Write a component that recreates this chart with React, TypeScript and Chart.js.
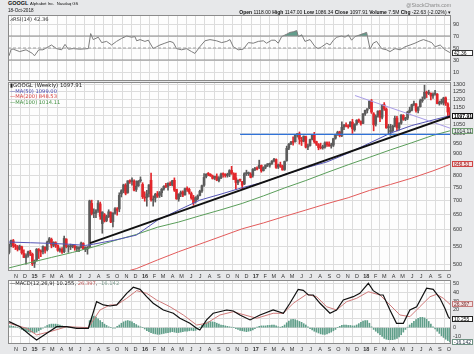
import React, { useEffect, useRef } from 'react';
import { Chart, registerables } from 'chart.js';
Chart.register(...registerables);

// ---------- DATA ----------
// week 0 = week ending 24-Oct-2014, weekly bars up to 19-Oct-2018 (index 208)
const FIRST_WEEK = Date.UTC(2014, 9, 24);
const WEEK_MS = 7 * 24 * 3600 * 1000;

const weekOpen = [532,556,566,551,547,541,548,529,517,524,533,527,502,511,540,535,534,547,540,563,570,552,560,552,538,541,534,571,548,548,549,551,543,542,546,558,540,542,548,690,654,655,665,688,620,650,630,643,657,626,655,670,670,725,737,760,731,777,774,776,743,757,778,763,714,712,727,780,702,710,726,720,730,745,756,755,767,761,780,743,706,726,733,722,747,743,727,712,699,708,720,737,760,796,806,805,798,789,795,779,790,807,802,800,805,822,808,790,770,781,775,765,808,808,806,800,826,830,835,844,821,836,847,845,853,865,871,837,847,840,826,866,925,947,955,957,993,998,962,960,983,930,938,970,994,958,943,930,927,930,952,943,936,940,975,995,1008,990,1035,1045,1038,1038,1062,1020,1052,1075,1066,1055,1110,1131,1145,1188,1110,1050,1097,1125,1090,1165,1138,1031,1010,1015,1040,1085,1030,1056,1101,1078,1085,1122,1131,1166,1170,1130,1153,1190,1205,1240,1237,1237,1220,1232,1232,1172,1180,1175,1208,1170,1118];
const weekHigh = [557,568,570,556,552,553,550,539,528,536,538,530,511,543,543,539,551,548,565,576,574,563,563,554,545,546,580,572,552,556,555,552,550,549,562,560,548,549,702,702,670,668,700,695,660,654,648,667,660,656,675,675,730,742,764,766,778,782,790,782,778,779,794,770,734,740,762,810,718,728,735,735,747,758,768,770,774,780,790,744,726,737,738,748,753,748,733,720,715,722,740,760,808,808,813,808,802,798,807,795,810,811,808,810,825,840,812,810,782,785,775,812,823,815,812,830,836,838,868,846,838,846,852,855,866,876,874,850,859,845,864,935,948,959,982,995,1000,1008,980,987,986,945,970,994,1006,960,948,950,940,957,957,956,950,975,996,1012,1012,1063,1048,1058,1048,1065,1078,1053,1076,1080,1070,1111,1132,1140,1188,1198,1117,1104,1128,1130,1165,1178,1145,1050,1050,1045,1096,1095,1060,1105,1105,1090,1125,1150,1168,1187,1172,1152,1200,1214,1292,1252,1258,1240,1240,1257,1236,1188,1200,1212,1214,1177,1147];
const weekLow = [528,548,546,540,536,539,527,517,500,519,523,496,491,508,515,520,528,530,536,560,545,548,546,535,533,529,531,545,532,540,545,538,534,534,545,540,534,527,545,649,640,640,658,634,589,625,626,640,623,609,652,648,660,714,730,722,728,767,760,737,735,755,772,708,698,680,714,698,680,695,712,712,715,740,750,740,758,757,735,705,698,715,715,721,735,725,705,683,691,703,718,731,755,790,799,796,785,783,778,773,787,793,793,793,795,805,785,744,762,775,745,762,800,800,790,793,821,824,830,814,819,829,839,836,848,860,831,830,835,823,822,863,918,942,940,955,981,945,938,956,926,917,935,966,950,938,917,921,920,925,933,935,925,933,970,990,982,983,1020,1035,1028,1035,1000,1012,1045,1060,1045,1054,1101,1115,1140,1112,1014,1040,1090,1065,1080,1130,1028,997,990,1010,1035,1013,1017,1050,1072,1070,1076,1115,1127,1157,1120,1115,1150,1180,1200,1210,1229,1195,1205,1225,1170,1162,1168,1163,1160,1085,1086.34];
const weekClose = [555,567,551,549,541,550,531,518,523,534,529,501,509,541,537,533,549,538,562,572,553,561,553,538,541,533,573,549,549,549,551,545,543,546,559,542,546,546,699,654,657,664,691,644,659,628,643,660,625,656,671,665,720,738,761,728,778,774,781,740,756,776,779,715,710,726,761,704,706,724,717,730,744,755,755,768,760,778,740,707,725,731,721,746,742,732,710,692,710,718,736,758,792,805,805,799,788,796,781,790,806,804,800,805,821,810,783,771,780,780,760,808,809,808,792,826,830,828,845,820,835,846,847,852,864,872,835,847,842,824,862,924,946,955,954,993,996,970,959,986,930,936,968,994,958,945,928,926,930,951,943,935,940,973,994,1007,988,1033,1047,1040,1036,1062,1025,1050,1072,1068,1053,1110,1130,1140,1187,1120,1047,1095,1126,1089,1164,1140,1030,1037,1010,1039,1084,1032,1054,1103,1078,1085,1120,1132,1165,1170,1130,1150,1190,1197,1244,1238,1243,1220,1231,1234,1172,1180,1182,1207,1174,1120.54,1097.91];

const ma50Weeks = [0,10,20,30,36,40,50,60,70,80,90,100,110,120,130,140,150,160,170,180,190,200,208];
const ma50Values = [562,560,558,555,552,556,568,583,631,666,702,725,750,772,804,833,860,901,950,1002,1043,1074,1099];
const ma100Weeks = [0,10,20,30,40,50,60,70,80,90,100,110,120,130,140,150,160,170,180,190,200,208];
const ma100Values = [490,504,518,532,548,567,585,608,625,646,667,690,718,749,779,813,847,881,917,952,990,1014.11];
const ma200Weeks = [54,60,70,80,90,100,110,120,130,140,150,160,170,180,190,200,208];
const ma200Values = [479,488,511,534,556,579,603,622,644,666,689,711,739,763,789,820,848.53];

const trendBlackWeeks = [38.2, 208.5];
const trendBlackValues = [559, 1096];
const supportWeeks = [109, 208.5];
const supportValues = [995, 995];
const wedgeWeeks = [163.2, 208.7];
const wedgeValues = [1223, 1026];

const rsiWeeks = [0,1,2,5,8,11,12,14,16,18.5,20,22.4,24.8,26.4,28,30.3,33.4,37.4,38.5,39.7,42.1,43.7,46,48.4,50.7,53.1,55.5,57.8,59.4,60.2,61.8,64.1,65.7,68,69.6,71.2,73.5,75.9,77.5,79,81.4,83.7,86.1,87.7,90,92.4,94.8,97.9,100.3,102.7,104.2,105.8,108.1,110.5,112.9,115.2,117.6,120,121.5,123.9,125.5,127,128.6,131,132.5,134.1,135.7,136.5,138.1,139.6,142,144.4,145.9,147.5,149.9,151.4,153,154.6,156.9,158.5,160.1,161.6,163.2,165.6,167.1,168.7,170.3,171.8,173.4,175.8,178.1,179.7,182.1,184.5,186.8,189.2,191.5,193.9,195.5,197.9,199.4,201,203.4,205.7,208];
const rsiValues = [37,48,48,44,47,41,37,47,47,52,55,49,47,56,48,49,48,49,74,64,68,59,61,55,61,66,70,68,69,62,64,61,63,49,52,55,58,61,59,49,47,49,44,41,52,62,64,62,59,61,64,52,47,48,59,58,61,62,58,63,63,58,69,73,76,77,79,69,72,61,64,52,49,52,58,55,63,68,70,68,72,63,69,72,74,76,48,58,61,49,47,44,49,47,52,55,58,62,64,61,59,52,55,47,42.36];

const macdWeeks = [0,5.2,9.9,13,17.8,22.5,27.2,31.9,37.4,41.3,44.5,47.6,50.8,55.5,58.6,61.8,64.9,68,72.8,77.5,80.6,85.3,88.5,90,93.2,96.3,102.7,105.8,108.9,113.7,118.4,124.6,129.4,132.5,136.4,138.8,141.2,143.5,146.7,151.4,154.5,157.7,162.4,165.5,169.5,171.8,175,176.5,179.7,182.8,186,189.1,192.3,197,200.1,203.3,205.6,207.2,208];
const macdValues = [6.8,1.1,-8.2,-13.9,-6.3,1.1,1.1,-0.7,-0.7,29.3,25.6,24.4,25.6,38.7,45.5,43.2,34.9,27.5,19.9,16.2,10.6,4.9,-0.7,-2.6,8.7,16.2,19.9,18.8,14.3,8.7,14.3,19.9,16.2,27.5,43.2,42,36.8,36.8,27.5,16.2,19.9,31.2,34.9,38.7,50,41.7,36.8,36.8,19.9,4.9,4.9,19.9,23.6,44.4,43.2,33.1,21.8,12.5,10.255];
const signalWeeks = [0,8.3,13,19.3,27.2,37.4,42.9,47.6,50.8,55.5,60.2,64.9,69.6,75.9,82.2,88.5,93.2,99.5,105.8,108.9,116.8,124.6,129.4,134.1,140.4,145.1,149.8,154.5,159.3,164,169.5,175,179.7,184.4,189.1,193.8,198.6,201.7,204.9,207.7,208];
const signalValues = [4.9,-0.7,-8.2,-4.5,1.1,0,19.9,25.6,25.6,33.1,41.7,38.7,31.2,23.6,14.3,3,4.9,14.3,18,15.8,10.6,16.2,16.2,27.5,37.6,34.9,23.6,19.9,29.3,33.1,40.5,36.8,25.6,14.3,12.4,23.6,34.9,37.6,33.1,27,26.397];
const histValues = [
  2,2,1.5,1,0.5,-0.5,-2,-3,-4,-4.5,
  -5,-5,-5.5,-5,-3.5,-2,-0.5,1,2.5,3.5,
  4,4,4,3.5,3,2,1,0.5,0,0.3,
  0.5,0,-0.3,-0.5,-0.3,0,-0.3,-0.5,8,12,
  13,12,10,8,6,4,2.5,1,0,-0.5,
  -0.5,1.5,3,5,6.5,7.5,8,7.5,6.5,5,
  3.5,2,1,0,-1.5,-3.5,-4.5,-5.5,-6.5,-7,
  -7.5,-7.5,-7,-6.5,-6,-5.5,-5,-4.5,-5,-5.5,
  -5.5,-5,-4.5,-4,-4,-3.5,-3,-3.5,-3,-1.5,
  0.5,2.5,4,5.5,6.5,6.8,6.5,6,5,4,
  3,2.5,2,1.5,1,0.5,0,-1,-2,-3,
  -3.5,-4,-4.5,-4,-3.5,-2.5,-1,0.5,1.5,2,
  2,2,2.5,2.5,3,3,2,1,0.5,1.5,
  3,5.5,7.5,9,9.5,9,8,7,6,4.5,
  3,1,-1,-2.5,-4,-5,-6,-7,-7.5,-7.5,
  -7,-6,-5,-3.5,-2,0,1.5,2.5,3,3,
  2.5,2.5,2,2,3,4.5,6,7.5,8,8,
  5,1,-2,-4,-6,-8,-10,-12,-13,-13.5,
  -13.5,-13.5,-13,-12,-10.5,-8,-5,-2,0.5,3,
  5,7,9,10.5,11.5,11.6,11,9.5,7,4,
  1,-1.5,-4,-6.5,-9,-11,-13,-14.5,-16.142,
];

const priceTicks = [500,550,600,650,700,750,800,850,900,950,1000,1050,1100,1150,1200,1250,1300];
const rsiTicks = [10,30,50,70,90];
const macdTicks = [-10,0,10,20,30,40,50];
const monthLetters = ['J','F','M','A','M','J','J','A','S','O','N','D'];

// month grid ticks (Nov 2014 .. Oct 2018)
const monthTicks: { value: number; label: string; year: boolean }[] = [];
for (let y = 2014, m = 10; y < 2018 || (y === 2018 && m <= 9); ) {
  const v = (Date.UTC(y, m, 1) - FIRST_WEEK) / WEEK_MS;
  monthTicks.push({ value: v, label: m === 0 ? String(y).slice(2) : monthLetters[m], year: m === 0 });
  m++;
  if (m > 11) { m = 0; y++; }
}

const FONT = '"Liberation Sans", Arial, sans-serif';
const pts = (xs: number[], ys: number[]) => xs.map((x, i) => ({ x, y: ys[i] }));

// ---------- PLUGINS ----------
const framePlugin = {
  id: 'frame',
  beforeDraw(chart: any) {
    const { ctx, chartArea: a } = chart;
    ctx.save();
    ctx.fillStyle = '#fdfdfd';
    ctx.fillRect(a.left, a.top, a.right - a.left, a.bottom - a.top);
    ctx.restore();
  },
  afterDraw(chart: any) {
    const { ctx, chartArea: a } = chart;
    ctx.save();
    ctx.strokeStyle = '#8a8a8a';
    ctx.lineWidth = 1;
    ctx.strokeRect(a.left + 0.5, a.top + 0.5, a.right - a.left - 1, a.bottom - a.top - 1);
    ctx.restore();
  },
};

const tagPlugin = {
  id: 'valueTags',
  afterDraw(chart: any, _a: any, opts: any) {
    const tags = (opts && opts.tags) || [];
    const { ctx, chartArea } = chart;
    const ys = chart.scales.y;
    ctx.save();
    for (const t of tags) {
      const py = ys.getPixelForValue(t.value);
      const left = chartArea.right + 1;
      const w = 21, h = 6;
      const top = Math.round(py - h / 2);
      ctx.fillStyle = t.fill;
      ctx.strokeStyle = t.stroke;
      ctx.lineWidth = 1;
      ctx.fillRect(left, top, w, h);
      ctx.strokeRect(left + 0.5, top + 0.5, w - 1, h - 1);
      ctx.fillStyle = t.color;
      ctx.font = (t.bold ? 'bold ' : '') + '5px ' + FONT;
      ctx.textBaseline = 'middle';
      ctx.textAlign = 'left';
      ctx.fillText(t.text, left + 2, top + h / 2 + 0.5);
    }
    ctx.restore();
  },
};

// ---------- SCALES ----------
function xScale(showLabels: boolean, h: number) {
  return {
    type: 'linear',
    min: -0.5,
    max: 208.5,
    offset: false,
    grid: { color: '#dcdcdc', drawTicks: false, offset: false },
    border: { display: false },
    afterBuildTicks: (s: any) => { s.ticks = monthTicks.map((t) => ({ value: t.value })); },
    afterFit: (s: any) => { s.height = h; s.paddingLeft = 0; s.paddingRight = 0; },
    ticks: {
      display: showLabels,
      autoSkip: false,
      maxRotation: 0,
      minRotation: 0,
      labelOffset: 4.5,
      padding: 2,
      color: '#333',
      font: (c: any) => ({ family: FONT, size: 5.5, weight: monthTicks[c.index] && monthTicks[c.index].year ? 'bold' : 'normal' }),
      callback: (_v: any, i: number) => (monthTicks[i] ? monthTicks[i].label : ''),
    },
  };
}

function yScale(type: string, min: number, max: number, ticks: number[]) {
  return {
    type,
    position: 'right',
    min,
    max,
    grid: { color: '#dcdcdc', drawTicks: false },
    border: { display: false },
    afterBuildTicks: (s: any) => { s.ticks = ticks.map((v) => ({ value: v })); },
    afterFit: (s: any) => { s.width = 23; s.paddingTop = 0; s.paddingBottom = 0; },
    ticks: { autoSkip: false, padding: 2, color: '#333', font: { family: FONT, size: 5.5 }, callback: (v: any) => String(v) },
  };
}

const baseOptions = {
  responsive: false,
  animation: false,
  devicePixelRatio: 1,
  layout: { padding: { left: 8, right: 0, top: 0, bottom: 0 } },
  events: [],
};

export default function App() {
  const rsiRef = useRef<HTMLCanvasElement>(null);
  const priceRef = useRef<HTMLCanvasElement>(null);
  const macdRef = useRef<HTMLCanvasElement>(null);

  useEffect(() => {
    Chart.defaults.font.family = FONT;
    const charts: Chart[] = [];

    const candleColor = weekClose.map((c, i) => (c < weekOpen[i] ? '#e3262b' : '#5c5c5c'));

    charts.push(new Chart(rsiRef.current as HTMLCanvasElement, {
      type: 'line',
      data: {
        datasets: [
          { data: pts([-0.5, 208.5], [70, 70]), borderColor: '#8c8c8c', borderWidth: 1, pointRadius: 0 },
          { data: pts([-0.5, 208.5], [30, 30]), borderColor: '#8c8c8c', borderWidth: 1, pointRadius: 0 },
          { data: pts([-0.5, 208.5], [50, 50]), borderColor: '#a0a0a0', borderWidth: 1, borderDash: [3, 2], pointRadius: 0 },
          {
            data: pts(rsiWeeks, rsiValues), borderColor: '#7d7d7d', borderWidth: 1, pointRadius: 0,
            fill: { target: { value: 70 }, above: 'rgba(70,140,120,0.85)', below: 'rgba(0,0,0,0)' },
          },
        ],
      },
      options: {
        ...baseOptions,
        plugins: { legend: { display: false }, tooltip: { enabled: false },
          valueTags: { tags: [{ value: 42.36, text: '42.36', stroke: '#333', fill: '#fff', color: '#111' }] } },
        scales: { x: xScale(false, 0), y: yScale('linear', -5, 105, rsiTicks) },
      } as any,
      plugins: [framePlugin, tagPlugin],
    } as any));

    charts.push(new Chart(priceRef.current as HTMLCanvasElement, {
      type: 'bar',
      data: {
        datasets: [
          { type: 'line', data: pts(trendBlackWeeks, trendBlackValues), borderColor: '#111', borderWidth: 2, pointRadius: 0, order: 0 },
          { type: 'line', data: pts(supportWeeks, supportValues), borderColor: '#2f72d8', borderWidth: 1.3, pointRadius: 0, order: 0 },
          { type: 'line', data: pts(wedgeWeeks, wedgeValues), borderColor: '#a99de6', borderWidth: 1, pointRadius: 0, order: 0 },
          { type: 'line', data: pts(ma50Weeks, ma50Values), borderColor: '#5555b5', borderWidth: 1, pointRadius: 0, order: 1 },
          { type: 'line', data: pts(ma100Weeks, ma100Values), borderColor: '#5a9e5a', borderWidth: 1, pointRadius: 0, order: 1 },
          { type: 'line', data: pts(ma200Weeks, ma200Values), borderColor: '#e35b5b', borderWidth: 1, pointRadius: 0, order: 1 },
          {
            type: 'bar', data: weekOpen.map((o, i) => ({ x: i, y: [Math.min(o, weekClose[i]), Math.max(o, weekClose[i])] })),
            backgroundColor: candleColor, barThickness: 2, grouped: false, minBarLength: 1, order: 2,
          },
          {
            type: 'bar', data: weekHigh.map((h, i) => ({ x: i, y: [weekLow[i], h] })),
            backgroundColor: candleColor, barThickness: 1, grouped: false, order: 3,
          },
        ],
      },
      options: {
        ...baseOptions,
        plugins: { legend: { display: false }, tooltip: { enabled: false },
          valueTags: { tags: [
            { value: 1097.91, text: '1097.91', stroke: '#111', fill: '#fff', color: '#000', bold: true },
            { value: 1014.11, text: '1014.11', stroke: '#6d9a6d', fill: '#e8f0e8', color: '#223' },
            { value: 848.53, text: '848.53', stroke: '#d04545', fill: '#f7dcdc', color: '#a02020' },
          ] } },
        scales: { x: xScale(true, 9), y: yScale('logarithmic', 482, 1314, priceTicks) },
      } as any,
      plugins: [framePlugin, tagPlugin],
    } as any));

    charts.push(new Chart(macdRef.current as HTMLCanvasElement, {
      type: 'bar',
      data: {
        datasets: [
          { type: 'line', data: pts(macdWeeks, macdValues), borderColor: '#111', borderWidth: 1.2, pointRadius: 0, order: 0 },
          { type: 'line', data: pts(signalWeeks, signalValues), borderColor: '#d07a7a', borderWidth: 1, pointRadius: 0, order: 1 },
          { type: 'bar', data: histValues.map((v, i) => ({ x: i, y: v })), backgroundColor: '#5f9e89', barThickness: 1, grouped: false, order: 2 },
        ],
      },
      options: {
        ...baseOptions,
        plugins: { legend: { display: false }, tooltip: { enabled: false },
          valueTags: { tags: [
            { value: 26.397, text: '26.397', stroke: '#c47a7a', fill: '#f5e2e2', color: '#702525' },
            { value: 10.255, text: '10.255', stroke: '#222', fill: '#fff', color: '#000' },
            { value: -16.142, text: '-16.142', stroke: '#6e9282', fill: '#fff', color: '#234' },
          ] } },
        scales: { x: xScale(true, 10), y: yScale('linear', -18.4, 53.7, macdTicks) },
      } as any,
      plugins: [framePlugin, tagPlugin],
    } as any));

    return () => charts.forEach((c) => c.destroy());
  }, []);

  const abs = (left: number, top: number, extra: React.CSSProperties = {}): React.CSSProperties => ({
    position: 'absolute', left, top, lineHeight: 1, whiteSpace: 'nowrap', ...extra,
  });
  const legendFont = '"DejaVu Sans", sans-serif';

  return (
    <div style={{ position: 'fixed', left: 0, top: 0, width: 474, height: 354, background: '#e7e8ea', overflow: 'hidden', fontFamily: FONT, color: '#111' }}>
      <canvas ref={rsiRef} width={474} height={66} style={{ position: 'absolute', left: 0, top: 15 }} />
      <canvas ref={priceRef} width={474} height={198} style={{ position: 'absolute', left: 0, top: 82 }} />
      <canvas ref={macdRef} width={474} height={74} style={{ position: 'absolute', left: 0, top: 280 }} />

      <div style={abs(8, 1, { fontSize: 5.5, fontWeight: 'bold' })}>GOOGL</div>
      <div style={abs(30, 2, { fontSize: 4.2 })}>Alphabet Inc.&nbsp;&nbsp;Nasdaq GS</div>
      <div style={abs(8, 8.5, { fontSize: 4.6 })}>18-Oct-2018</div>
      <div style={abs(0, 2.5, { fontSize: 5.2, color: '#888', width: 451, textAlign: 'right' })}>@StockCharts.com</div>
      <div style={abs(0, 9.5, { fontSize: 5, width: 451, textAlign: 'right' })}>
        <b>Open</b> 1118.00 <b>High</b> 1147.00 <b>Low</b> 1086.34 <b>Close</b> 1097.91 <b>Volume</b> 7.5M <b>Chg</b> -22.63 (-2.02%) ▾
      </div>

      <div style={abs(10, 16.5, { fontSize: 5.2, fontFamily: legendFont, color: '#333' })}>⩘RSI(14) 42.36</div>

      <div style={abs(10, 83, { fontSize: 5.4, fontFamily: legendFont, color: '#222' })}>▮GOOGL (Weekly) 1097.91</div>
      <div style={abs(10, 88.5, { fontSize: 5.2, fontFamily: legendFont, color: '#4848b0' })}>—MA(50) 1099.00</div>
      <div style={abs(10, 94, { fontSize: 5.2, fontFamily: legendFont, color: '#d84040' })}>—MA(200) 848.53</div>
      <div style={abs(10, 99.5, { fontSize: 5.2, fontFamily: legendFont, color: '#3f8f3f' })}>—MA(100) 1014.11</div>

      <div style={abs(10, 281, { fontSize: 5.2, fontFamily: legendFont, color: '#222' })}>
        —MACD(12,26,9) 10.255, <span style={{ color: '#c06060' }}>26.397</span>, <span style={{ color: '#7a9a8c' }}>-16.142</span>
      </div>
    </div>
  );
}
